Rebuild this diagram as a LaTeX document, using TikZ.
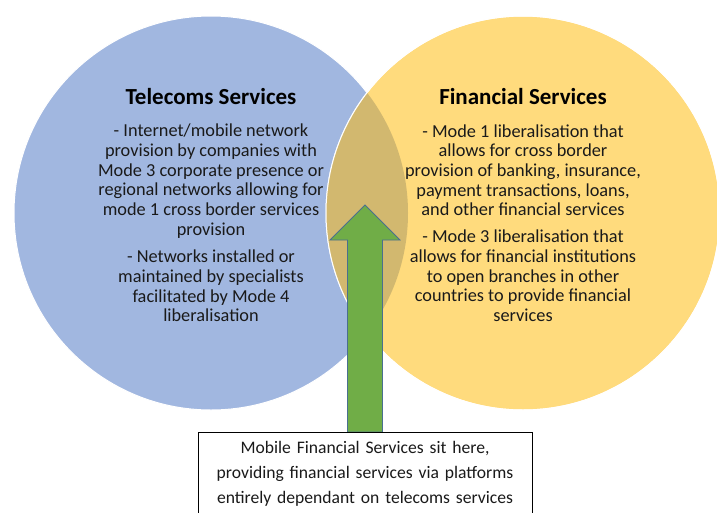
\documentclass[tikz,border=0pt]{standalone}
\usepackage{fontspec}
\setmainfont{Carlito}
\usetikzlibrary{calc}
\usetikzlibrary{positioning}

\definecolor{teleblue}{HTML}{A1B7E0}
\definecolor{finyellow}{HTML}{FFDB7D}
\definecolor{overlaptan}{HTML}{D2B86F}
\definecolor{arrowgreen}{HTML}{70AD47}
\definecolor{arrowedge}{HTML}{4A6F8F}
\definecolor{bodytext}{HTML}{1A1A1A}

\begin{document}
\begin{tikzpicture}[
    x=1pt, y=-1pt,
    % Define the style for the two service areas
    area/.style={circle, draw=white, line width=1pt, minimum size=394pt, inner sep=0pt},
    % Headings and body text of each area
    heading/.style={font=\fontsize{23}{27}\selectfont\bfseries, text=black},
    bodytxt/.style={font=\fontsize{18.3}{19.7}\selectfont, text=bodytext, align=center, inner sep=0pt},
    % The up arrow and the note box
    blockarrow/.style={fill=arrowgreen, draw=arrowedge, line width=0.8pt, line join=miter},
    notebox/.style={font=\fontsize{17.6}{25}\selectfont, text=bodytext, align=center, text width=320pt, inner xsep=7pt, inner ysep=9pt}
]

    % --- Configuration ---
    \def\radius{197} % Radius of the circles

    \useasboundingbox (0,0) rectangle (717,512);
    \clip (0,0) rectangle (717,512);

    % --- The two circles ---
    \node[area, fill=teleblue] (tele) at (211,213) {};
    \node[area, fill=finyellow] (fin) at (523,213) {};

    % Overlap of the circles
    \begin{scope}
        \clip (tele.center) circle (\radius);
        \fill[overlaptan] (fin.center) circle (\radius);
    \end{scope}
    \draw[white, line width=1pt] (fin.center) circle (\radius);

    % --- Telecoms Services ---
    \node[heading] (teletitle) at ($(tele.center)+(0,-116)$) {Telecoms Services};
    \node[bodytxt] (teletext) at ($(tele.center)+(0,10)$) {%
        - Internet/mobile network\\
        provision by companies with\\
        Mode 3 corporate presence or\\
        regional networks allowing for\\
        mode 1 cross border services\\
        provision\\[8pt]
        - Networks installed or\\
        maintained by specialists\\
        facilitated by Mode 4\\
        liberalisation};

    % --- Financial Services ---
    \node[heading] (fintitle) at ($(fin.center)+(0,-116)$) {Financial Services};
    \node[bodytxt] (fintext) at ($(fin.center)+(0,10)$) {%
        - Mode 1 liberalisation that\\
        allows for cross border\\
        provision of banking, insurance,\\
        payment transactions, loans,\\
        and other financial services\\[7pt]
        - Mode 3 liberalisation that\\
        allows for financial institutions\\
        to open branches in other\\
        countries to provide financial\\
        services};

    % --- Note box and arrow ---
    \coordinate (tip) at (365,205);
    \coordinate (boxtop) at (365,432);

    \draw[blockarrow] (tip) -- ++(35,35) -- ++(-17.5,0)
        -- ($(boxtop)+(17.5,0)$) -- ($(boxtop)+(-17.5,0)$)
        -- ($(tip)+(-17.5,35)$) -- ++(-17.5,0) -- cycle;

    \draw[fill=white, draw=black, line width=0.8pt] ($(boxtop)+(-167,0)$) rectangle ($(boxtop)+(167,100)$);
    \node[notebox, anchor=north] (mfs) at (boxtop) {%
        Mobile Financial Services sit here,\\
        providing financial services via platforms\\
        entirely dependant on telecoms services};

\end{tikzpicture}
\end{document}
